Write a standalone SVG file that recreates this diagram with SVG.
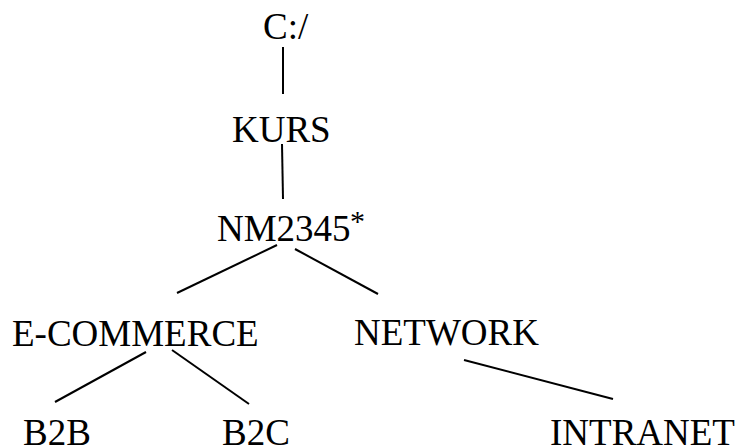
<svg xmlns="http://www.w3.org/2000/svg" width="738" height="448" viewBox="0 0 738 448">
<style>
line{stroke:#000;stroke-width:2}
</style>
<rect width="738" height="448" fill="#fff"/>
<g id="connectors">
<line x1="283" y1="47" x2="283" y2="94"/>
<line x1="282" y1="144" x2="283" y2="199"/>
<line x1="277" y1="245" x2="177" y2="293"/>
<line x1="295" y1="249" x2="378" y2="294"/>
<line x1="146" y1="352" x2="55" y2="402"/>
<line x1="172" y1="350" x2="249" y2="404"/>
<line x1="464" y1="360" x2="613" y2="399"/>
</g>
<g font-family="Liberation Serif, Times New Roman, DejaVu Serif, serif" font-size="37" fill="#000">
<g id="n-c"><text x="263" y="39">C:/</text></g>
<g id="n-kurs"><text x="232" y="142">KURS</text></g>
<g id="n-nm2345"><text x="217" y="241">NM2345</text><text x="350" y="231" font-size="30">*</text></g>
<g id="n-ecommerce"><text x="12" y="346">E-COMMERCE</text></g>
<g id="n-network"><text x="354" y="345">NETWORK</text></g>
<g id="n-b2b"><text x="23" y="445">B2B</text></g>
<g id="n-b2c"><text x="222" y="445">B2C</text></g>
<g id="n-intranet"><text x="550" y="445">INTRANET</text></g>
</g>
</svg>
